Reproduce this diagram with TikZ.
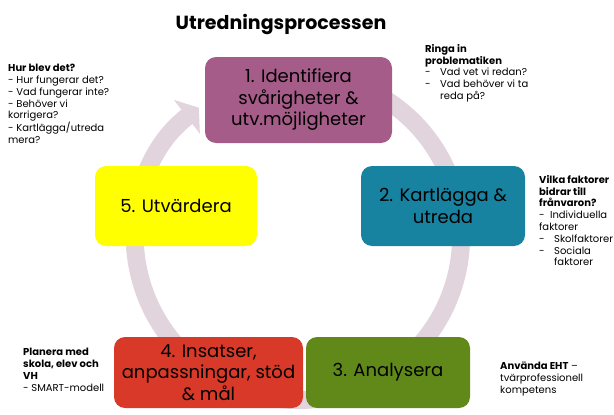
\documentclass[tikz,border=0pt]{standalone}
\usepackage{fontspec}
\setmainfont{Poppins}
\usetikzlibrary{arrows.meta}

\definecolor{ringgrey}{RGB}{226,212,221}
\definecolor{identcol}{RGB}{165,92,137}
\definecolor{kartlcol}{RGB}{23,131,160}
\definecolor{analyscol}{RGB}{96,137,26}
\definecolor{insatscol}{RGB}{217,57,40}
\definecolor{utvardcol}{RGB}{255,255,0}

\tikzstyle{phase} = [rectangle, rounded corners=11pt, align=center, inner sep=2pt, font=\fontsize{18}{21.5}\selectfont]
\tikzstyle{note} = [anchor=north west, align=left, inner sep=0pt, font=\fontsize{10}{11.8}\selectfont]
\tikzstyle{ring} = [draw=ringgrey, line width=18pt]
\newcommand{\dsh}{\makebox[15pt][l]{-}}

\begin{document}
\begin{tikzpicture}[x=1pt, y=-1pt]
  \useasboundingbox (0,0) rectangle (614,415);
  \node [anchor=base, font=\fontsize{19}{22}\selectfont\bfseries] (title) at (281,29) {Utredningsprocessen};

  \coordinate (ctr) at (298,237);
  \draw [ring, -{Triangle[length=15pt, width=42pt]}] (ctr) ++(245:163) arc (245:592.5:163);

  \node [phase, fill=identcol, minimum width=187pt, minimum height=86pt] (ident) at (298.5,100) {1. Identifiera\\svårigheter \&\\utv.möjligheter};
  \node [phase, fill=kartlcol, minimum width=164pt, minimum height=80pt] (kartl) at (443,206) {2. Kartlägga \&\\utreda};
  \node [phase, fill=analyscol, minimum width=164pt, minimum height=71pt] (analys) at (388,372.5) {3. Analysera};
  \node [phase, fill=insatscol, minimum width=189pt, minimum height=71pt] (insats) at (208.5,372.5) {4. Insatser,\\anpassningar, stöd\\\& mål};
  \node [phase, fill=utvardcol, minimum width=162pt, minimum height=80pt] (utvard) at (176,206) {5. Utvärdera};

  \node [note] (hurblev) at (8,64) {\textbf{Hur blev det?}\\- Hur fungerar det?\\- Vad fungerar inte?\\- Behöver vi\\korrigera?\\- Kartlägga/utreda\\mera?};
  \node [note] (ringa) at (425,44) {\textbf{Ringa in}\\\textbf{problematiken}\\\dsh Vad vet vi redan?\\\dsh Vad behöver vi ta\\\hspace*{15pt}reda på?};
  \node [note] (vilka) at (539,175) {\textbf{Vilka faktorer}\\\textbf{bidrar till}\\\textbf{frånvaron?}\\- \ Individuella\\faktorer\\\dsh Skolfaktorer\\\dsh Sociala\\\hspace*{15pt}faktorer};
  \node [note] (planera) at (23,348) {\textbf{Planera med}\\\textbf{skola, elev och}\\\textbf{VH}\\- SMART-modell};
  \node [note] (anvanda) at (500,362) {\textbf{Använda EHT} –\\tvärprofessionell\\kompetens};
\end{tikzpicture}
\end{document}
